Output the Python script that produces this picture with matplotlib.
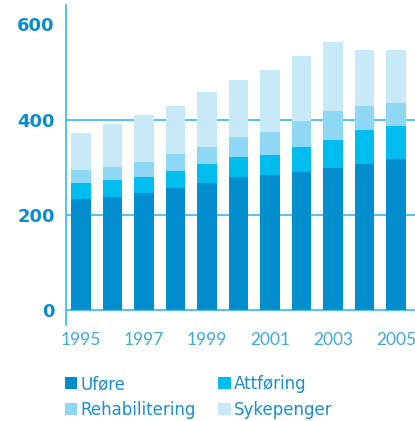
import matplotlib
matplotlib.use("Agg")
import matplotlib.pyplot as plt
import numpy as np

years = list(range(1995, 2006))
# cumulative tops, turned into segment heights below
ufore = [234, 238, 246, 257, 267, 280, 284, 290, 299, 307, 318]
attf_top = [267, 273, 280, 292, 306, 321, 325, 343, 357, 378, 387]
rehab_top = [294, 301, 311, 327, 343, 363, 374, 397, 418, 429, 435]
total = [372, 391, 410, 429, 458, 483, 504, 534, 562, 546, 546]

attforing = [a - u for a, u in zip(attf_top, ufore)]
rehab = [r - a for r, a in zip(rehab_top, attf_top)]
sykepenger = [t - r for t, r in zip(total, rehab_top)]

labels = ["Uføre", "Attføring", "Rehabilitering", "Sykepenger"]
colors = ["#008ecf", "#00bdf0", "#8fd8f5", "#c8e9f8"]
series = [ufore, attforing, rehab, sykepenger]

fig = plt.figure(figsize=(4.15, 4.21), dpi=100)
ax = fig.add_axes([0.159, 0.229, 0.841, 0.759])

bottom = np.zeros(len(years))
bars = []
for vals, col, lab in zip(series, colors, labels):
    b = ax.bar(years, vals, width=0.62, bottom=bottom, color=col, label=lab, zorder=3)
    bars.append(b)
    bottom += np.array(vals)

for y in [0, 200, 400]:
    ax.axhline(y, color="#33bbee", lw=1.2, zorder=2)

ax.set_xlim(1994.52, 2005.6)
ax.set_ylim(-30, 640)
ax.set_yticks([0, 200, 400, 600])
ax.set_xticks(years[::2])
for s in ["top", "right", "bottom"]:
    ax.spines[s].set_visible(False)
ax.spines["left"].set_color("#33bbee")
ax.spines["left"].set_linewidth(1.2)
ax.tick_params(length=0)
ax.tick_params(axis="y", pad=8)
ax.tick_params(axis="x", pad=5)
for t in ax.get_yticklabels():
    t.set_fontweight("bold")
    t.set_fontsize(13)
    t.set_color("#0a8cce")
for t in ax.get_xticklabels():
    t.set_fontsize(12.5)
    t.set_color("#40a8dc")
    t.set_fontfamily("Lato")

# row-wise order: Uføre, Attføring / Rehabilitering, Sykepenger
order = [0, 2, 1, 3]
leg = fig.legend([bars[i] for i in order], [labels[i] for i in order],
                 loc="upper left", bbox_to_anchor=(0.14, 0.125), ncol=2,
                 frameon=False, handlelength=0.75, handleheight=0.75,
                 handletextpad=0.2, columnspacing=1.35, labelspacing=0.45,
                 fontsize=12, borderaxespad=0)
for t in leg.get_texts():
    t.set_color("#1a8fd0")

fig.savefig("out.png", dpi=100)
